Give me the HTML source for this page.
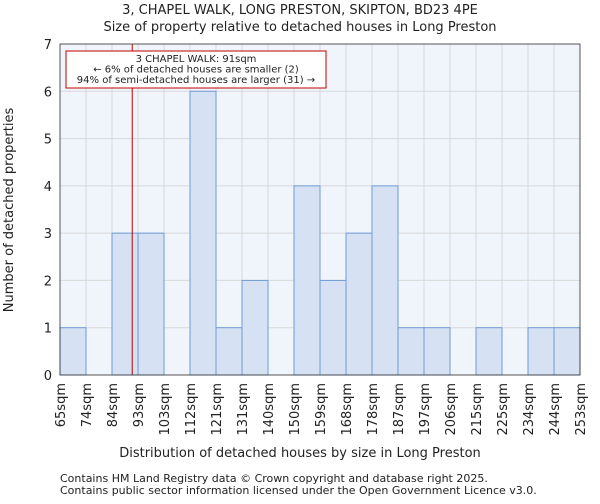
<!DOCTYPE html>
<html><head><meta charset="utf-8"><style>
body{margin:0;background:#fff;font-family:"DejaVu Sans","Liberation Sans",sans-serif}
svg text{font-family:"DejaVu Sans","Liberation Sans",sans-serif;fill:#222}
</style></head><body>
<svg id="c" width="600" height="500">
<rect x="60" y="44" width="520" height="331" fill="#f0f4fb"/>
<g id="grid"></g><g id="bars"></g><g id="axes"></g>
<text x="300" y="14" text-anchor="middle" font-size="13">3, CHAPEL WALK, LONG PRESTON, SKIPTON, BD23 4PE</text>
<text x="300" y="31" text-anchor="middle" font-size="13">Size of property relative to detached houses in Long Preston</text>
<text x="300" y="457" text-anchor="middle" font-size="13">Distribution of detached houses by size in Long Preston</text>
<text transform="translate(13,210) rotate(-90)" text-anchor="middle" font-size="13">Number of detached properties</text>
<text x="60" y="482" font-size="11">Contains HM Land Registry data © Crown copyright and database right 2025.</text>
<text x="60" y="494" font-size="11">Contains public sector information licensed under the Open Government Licence v3.0.</text>
</svg>
<script>
const labels=["65sqm","74sqm","84sqm","93sqm","103sqm","112sqm","121sqm","131sqm","140sqm","150sqm","159sqm","168sqm","178sqm","187sqm","197sqm","206sqm","215sqm","225sqm","234sqm","244sqm","253sqm"];
const edges=[65,74,84,93,103,112,121,131,140,150,159,168,178,187,197,206,215,225,234,244,253];
const counts=[1,0,3,3,0,6,1,2,0,4,2,3,4,1,1,0,1,0,1,1];
const yTicks=[0,1,2,3,4,5,6,7];
const marker=91;
const NS="http://www.w3.org/2000/svg";
const X0=60,X1=580,Y0=375,Y1=44;
const bw=(X1-X0)/counts.length;
function xi(i){return X0+i*bw;}
function xv(v){let i=0;while(i<edges.length-2&&v>edges[i+1])i++;return xi(i)+bw*(v-edges[i])/(edges[i+1]-edges[i]);}
function y(v){return Y0-(Y0-Y1)*v/7;}
function mk(p,t,a){const e=document.createElementNS(NS,t);for(const k in a)e.setAttribute(k,a[k]);p.appendChild(e);return e;}
const g=document.getElementById('grid'),b=document.getElementById('bars'),ax=document.getElementById('axes');
yTicks.forEach(t=>{const l=mk(g,'line',{x1:X0,x2:X1,y1:y(t),y2:y(t),stroke:'#d8d8d8'});


const tx=mk(ax,'text',{x:X0-8,y:y(t)+5,'text-anchor':'end','font-size':13});tx.textContent=t;

});
labels.forEach((s,i)=>{const l=mk(g,'line',{x1:xi(i),x2:xi(i),y1:Y1,y2:Y0,stroke:'#d8d8d8'});


const tx=mk(ax,'text',{transform:`translate(${xi(i)+5},${Y0+8}) rotate(-90)`,'text-anchor':'end','font-size':13});tx.textContent=s;

});
counts.forEach((c,i)=>{if(!c)return;const r=mk(b,'rect',{x:xi(i),y:y(c),width:bw,height:Y0-y(c),fill:'#d6e2f3',stroke:'#6f9bd6','stroke-width':1});

});
const ml=mk(ax,'line',{x1:xv(marker),x2:xv(marker),y1:Y1,y2:Y0,stroke:'#c00000','stroke-width':1});


const box=mk(ax,'rect',{x:66,y:51,width:260,height:37,fill:'#fff',stroke:'#c00000'});


["3 CHAPEL WALK: 91sqm","← 6% of detached houses are smaller (2)","94% of semi-detached houses are larger (31) →"].forEach((s,i)=>{
const t=mk(ax,'text',{x:196,y:62+i*10.5,'text-anchor':'middle','font-size':10});t.textContent=s;

});
const fr=mk(ax,'rect',{x:X0,y:Y1,width:X1-X0,height:Y0-Y1,fill:'none',stroke:'#333','stroke-width':0.8});


</script>
</body></html>
